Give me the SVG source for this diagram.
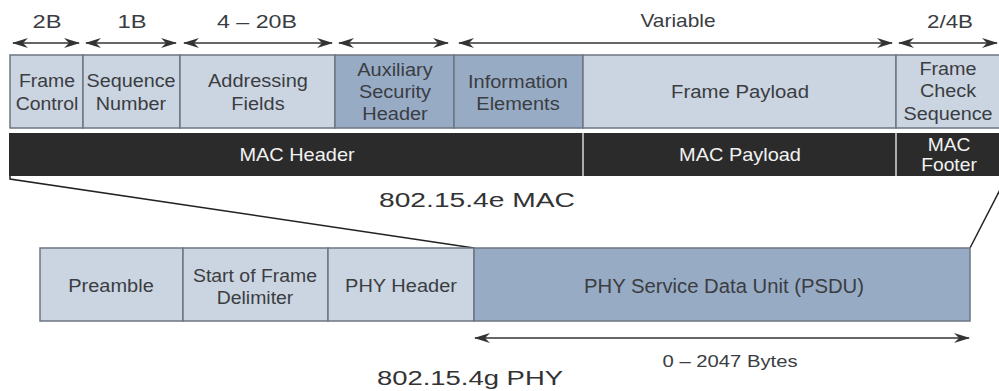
<svg xmlns="http://www.w3.org/2000/svg" width="999" height="391" viewBox="0 0 999 391">
<style>
.lt{fill:#cbd4e1;stroke:#6e7683;stroke-width:1.5}
.dk{fill:#98abc5;stroke:#6e7683;stroke-width:1.5}
.bar{fill:#2b2b2b}
.sep{stroke:#d8d8d8;stroke-width:1.5}
.t{font-family:"Liberation Sans",Arial,sans-serif;font-size:18.5px;fill:#3a3d42;text-anchor:middle}
.w{font-family:"Liberation Sans",Arial,sans-serif;font-size:17.5px;fill:#f2f2f2;text-anchor:middle}
.ttl{font-family:"Liberation Sans",Arial,sans-serif;font-size:20px;fill:#333;text-anchor:middle}
.arr{stroke:#333;stroke-width:1.6;fill:none;marker-start:url(#ah);marker-end:url(#ah)}
.ln{stroke:#222;stroke-width:1.5;fill:none}
</style>
<defs>
<marker id="ah" viewBox="0 0 16 10" markerWidth="16" markerHeight="10" refX="15" refY="5" orient="auto-start-reverse" markerUnits="userSpaceOnUse">
<path d="M0,0 L16,5 L0,10 L5,5 Z" fill="#333"/>
</marker>
</defs>
<rect width="999" height="391" fill="#fff"/>

<g id="connectors">
<line class="arr" x1="13" y1="43" x2="79" y2="43"/>
<line class="arr" x1="86" y1="43" x2="176" y2="43"/>
<line class="arr" x1="184" y1="43" x2="332" y2="43"/>
<line class="arr" x1="339" y1="43" x2="448" y2="43"/>
<line class="arr" x1="459" y1="43" x2="892" y2="43"/>
<line class="arr" x1="899" y1="43" x2="997" y2="43"/>
<line class="arr" x1="475" y1="338" x2="969" y2="338"/>
<polyline class="ln" points="10,176 10,179 474,248"/>
<line class="ln" x1="970" y1="248" x2="1006" y2="178"/>
</g>

<g id="sizes">
<text class="t" x="47" y="28" textLength="29" lengthAdjust="spacingAndGlyphs">2B</text>
<text class="t" x="132" y="28" textLength="29" lengthAdjust="spacingAndGlyphs">1B</text>
<text class="t" x="257" y="28" textLength="80" lengthAdjust="spacingAndGlyphs">4 – 20B</text>
<text class="t" x="678" y="27" textLength="75" lengthAdjust="spacingAndGlyphs">Variable</text>
<text class="t" x="950" y="28" textLength="46" lengthAdjust="spacingAndGlyphs">2/4B</text>
</g>

<g id="frame-control">
<rect class="lt" x="10" y="55" width="73" height="73"/>
<text class="t" transform="translate(47,87) scale(1.05,1)">Frame</text>
<text class="t" transform="translate(47,110) scale(1.05,1)">Control</text>
</g>
<g id="sequence-number">
<rect class="lt" x="83" y="55" width="97" height="73"/>
<text class="t" transform="translate(131,87) scale(1.07,1)">Sequence</text>
<text class="t" transform="translate(131,110) scale(1.07,1)">Number</text>
</g>
<g id="addressing-fields">
<rect class="lt" x="180" y="55" width="155" height="73"/>
<text class="t" transform="translate(258,87) scale(1.08,1)">Addressing</text>
<text class="t" transform="translate(258,110) scale(1.08,1)">Fields</text>
</g>
<g id="aux-security-header">
<rect class="dk" x="335" y="55" width="119" height="73"/>
<text class="t" transform="translate(395,76) scale(1.08,1)">Auxiliary</text>
<text class="t" transform="translate(395,98) scale(1.08,1)">Security</text>
<text class="t" transform="translate(395,120) scale(1.08,1)">Header</text>
</g>
<g id="information-elements">
<rect class="dk" x="454" y="55" width="129" height="73"/>
<text class="t" transform="translate(518,88) scale(1.08,1)">Information</text>
<text class="t" transform="translate(518,110) scale(1.08,1)">Elements</text>
</g>
<g id="frame-payload">
<rect class="lt" x="583" y="55" width="313" height="73"/>
<text class="t" transform="translate(740,98) scale(1.1,1)">Frame Payload</text>
</g>
<g id="frame-check-sequence">
<rect class="lt" x="896" y="55" width="104" height="73"/>
<text class="t" transform="translate(948,75) scale(1.07,1)">Frame</text>
<text class="t" transform="translate(948,97) scale(1.07,1)">Check</text>
<text class="t" transform="translate(948,120) scale(1.07,1)">Sequence</text>
</g>

<g id="mac-header">
<rect class="bar" x="9" y="133" width="574" height="43"/>
<text class="w" transform="translate(297,161) scale(1.14,1)">MAC Header</text>
</g>
<g id="mac-payload">
<rect class="bar" x="583" y="133" width="313" height="43"/>
<text class="w" transform="translate(740,161) scale(1.14,1)">MAC Payload</text>
</g>
<g id="mac-footer">
<rect class="bar" x="896" y="133" width="103" height="43"/>
<text class="w" transform="translate(949,151) scale(1.1,1)">MAC</text>
<text class="w" transform="translate(949,171) scale(1.1,1)">Footer</text>
</g>
<g id="bar-separators">
<line class="sep" x1="583" y1="133" x2="583" y2="176"/>
<line class="sep" x1="896" y1="133" x2="896" y2="176"/>
</g>

<text class="ttl" x="477" y="207" textLength="196" lengthAdjust="spacingAndGlyphs">802.15.4e MAC</text>

<g id="preamble">
<rect class="lt" x="40" y="248" width="143" height="73"/>
<text class="t" transform="translate(111,292) scale(1.08,1)">Preamble</text>
</g>
<g id="start-of-frame-delimiter">
<rect class="lt" x="183" y="248" width="145" height="73"/>
<text class="t" transform="translate(255,282) scale(1.05,1)">Start of Frame</text>
<text class="t" transform="translate(255,304) scale(1.05,1)">Delimiter</text>
</g>
<g id="phy-header">
<rect class="lt" x="328" y="248" width="146" height="73"/>
<text class="t" transform="translate(401,292) scale(1.08,1)">PHY Header</text>
</g>
<g id="psdu">
<rect class="dk" x="474" y="248" width="496" height="73"/>
<text class="t" transform="translate(724,293) scale(1.04,1)" style="font-size:19.5px">PHY Service Data Unit (PSDU)</text>
</g>

<text class="t" x="730" y="367" style="font-size:16.5px" textLength="135" lengthAdjust="spacingAndGlyphs">0 – 2047 Bytes</text>
<text class="ttl" x="470" y="385" textLength="186" lengthAdjust="spacingAndGlyphs">802.15.4g PHY</text>
</svg>
